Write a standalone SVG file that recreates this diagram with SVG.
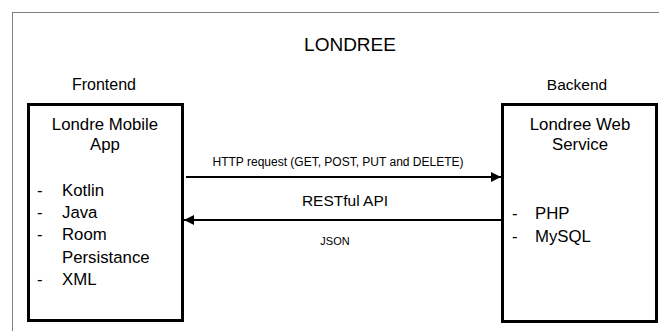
<svg xmlns="http://www.w3.org/2000/svg" width="659" height="331" viewBox="0 0 659 331">
<defs>
<style>
text{font-family:"Liberation Sans",Arial,sans-serif;fill:#000}
.box{fill:#fff;stroke:#000;stroke-width:3}
.conn{stroke:#000;stroke-width:2;fill:none}
.t16{font-size:16.8px}
.mid{text-anchor:middle}
</style>
<marker id="ah" viewBox="0 0 10 10" refX="10" refY="5" markerWidth="5" markerHeight="5" orient="auto" markerUnits="strokeWidth">
<path d="M0,0 L10,5 L0,10 z" fill="#000"/>
</marker>
</defs>
<rect width="659" height="331" fill="#fff"/>
<rect x="12.5" y="12.5" width="700" height="400" fill="none" stroke="#808080" stroke-width="1"/>
<text x="350" y="51" class="mid" font-size="19">LONDREE</text>
<text x="104" y="90" class="mid" font-size="16">Frontend</text>
<text x="577" y="90" class="mid" font-size="15.5">Backend</text>
<g id="frontend">
<rect class="box" x="28.5" y="104.5" width="154" height="216"/>
<text x="105" y="130" class="mid t16">Londre Mobile</text>
<text x="105" y="150" class="mid t16">App</text>
<text x="37" y="196" class="t16">-</text><text x="62" y="196" class="t16">Kotlin</text>
<text x="37" y="218" class="t16">-</text><text x="62" y="218" class="t16">Java</text>
<text x="37" y="240" class="t16">-</text><text x="62" y="240" class="t16">Room</text>
<text x="62" y="263" class="t16">Persistance</text>
<text x="37" y="285" class="t16">-</text><text x="62" y="285" class="t16">XML</text>
</g>
<g id="backend">
<rect class="box" x="502.5" y="104.5" width="154" height="217"/>
<text x="580" y="130" class="mid t16">Londree Web</text>
<text x="580" y="150" class="mid t16">Service</text>
<text x="512" y="219" class="t16">-</text><text x="535" y="219" class="t16">PHP</text>
<text x="512" y="242" class="t16">-</text><text x="535" y="242" class="t16">MySQL</text>
</g>
<g id="connectors">
<line class="conn" x1="186" y1="177" x2="501" y2="177" marker-end="url(#ah)"/>
<line class="conn" x1="502" y1="220" x2="184" y2="220" marker-end="url(#ah)"/>
<text x="338" y="166" class="mid" font-size="12">HTTP request (GET, POST, PUT and DELETE)</text>
<text x="345" y="206" class="mid" font-size="15.5">RESTful API</text>
<text x="335" y="245" class="mid" font-size="11">JSON</text>
</g>
</svg>
